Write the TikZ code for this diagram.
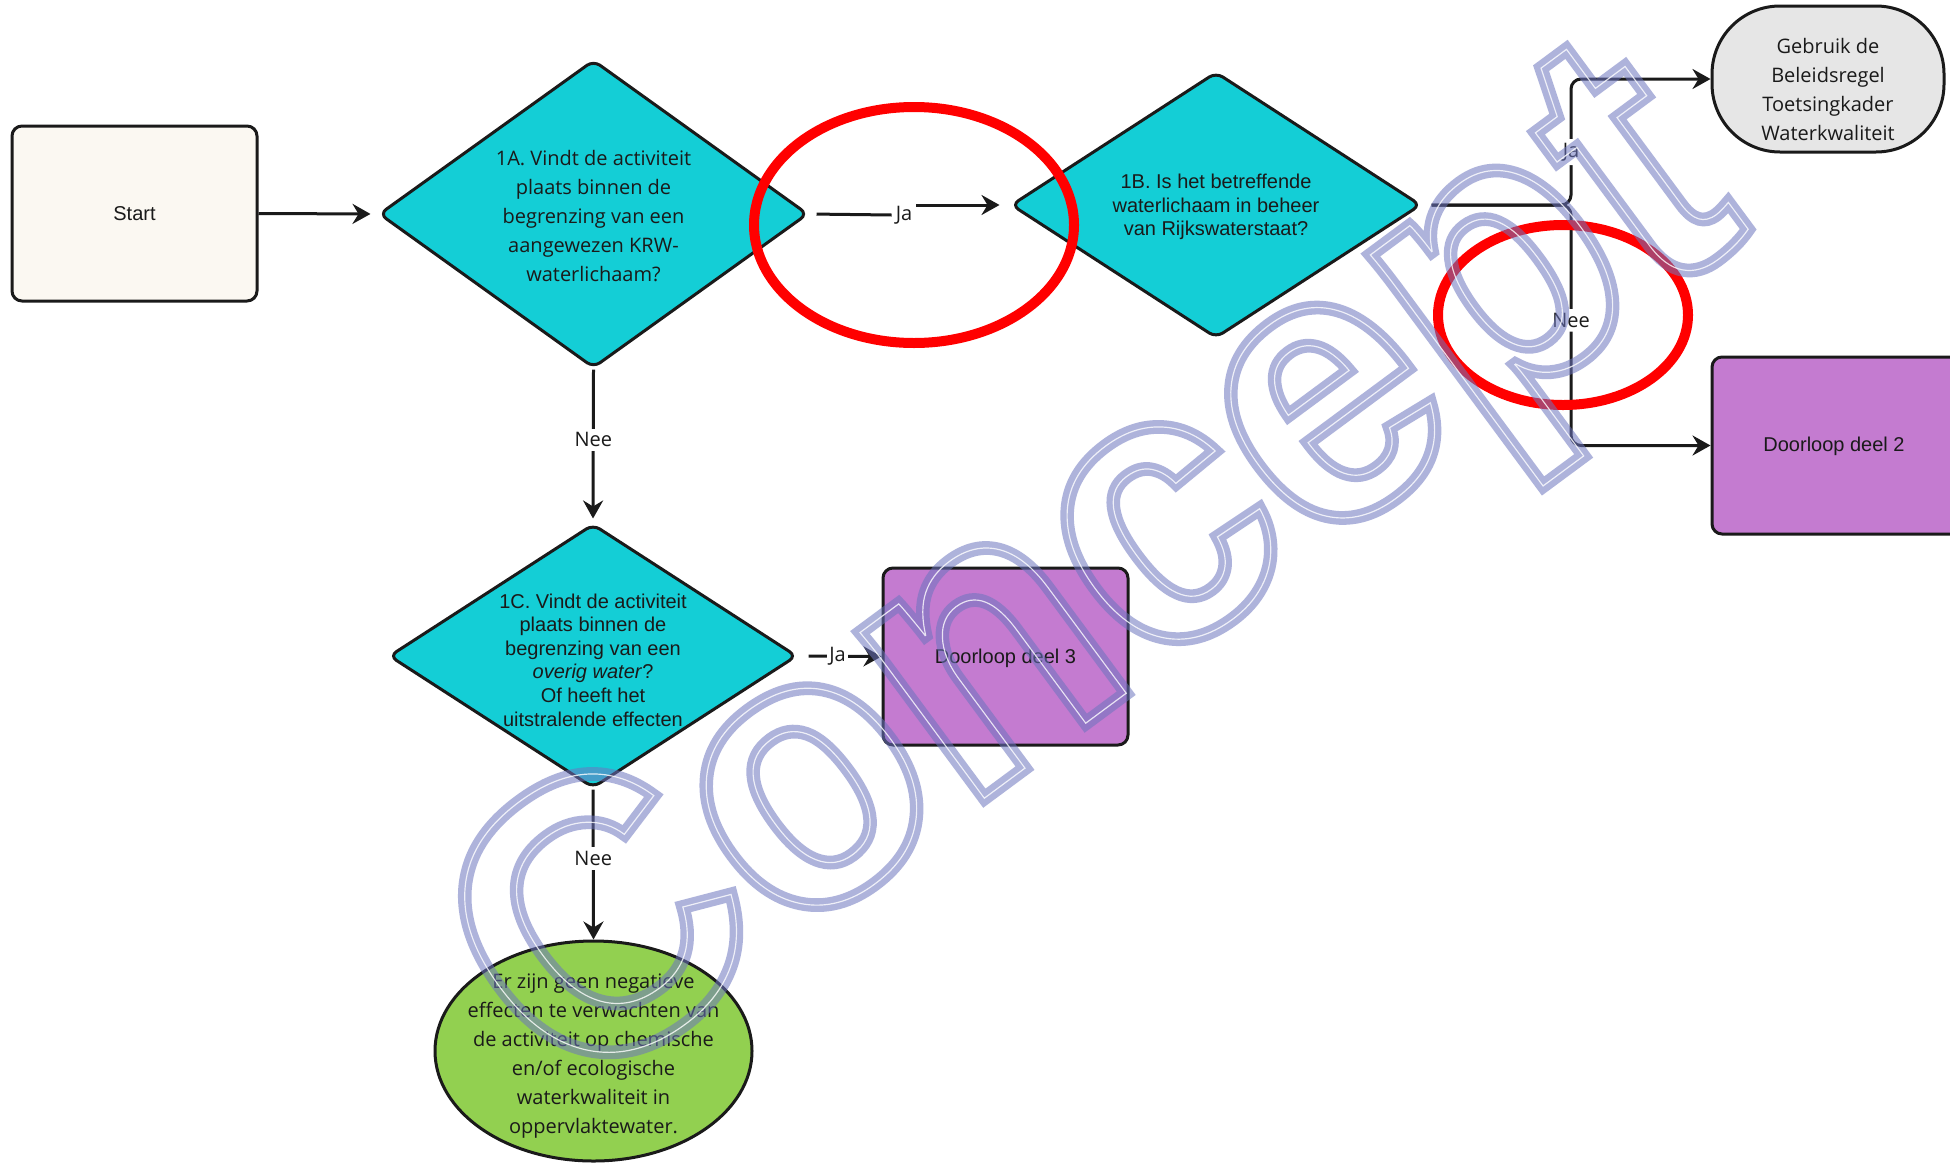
\documentclass[tikz,border=0pt]{standalone}
\usepackage{fontspec}
\setmainfont{Open Sans}
\newfontfamily\arialfont{Liberation Sans}
\newfontfamily\opensansfont{Open Sans}
\usetikzlibrary{shapes.geometric,arrows.meta,calc}

\definecolor{qcyan}{HTML}{14CED6}
\definecolor{qcream}{HTML}{FBF8F2}
\definecolor{qpurple}{HTML}{C47BD0}
\definecolor{qgrey}{HTML}{E6E6E6}
\definecolor{qgreen}{HTML}{92D050}
\definecolor{qink}{HTML}{1A1A1A}
\definecolor{qmark}{HTML}{6C75BF}

% outlined glyphs: PDF text render mode 1 (stroke only) with a given line width
\newcommand\outlineon[1]{\special{pdf:literal direct 1 Tr #1 w}}
\newcommand\outlineoff{\special{pdf:literal direct 0 Tr}}

\begin{document}
\begin{tikzpicture}[x=1pt,y=-1pt,
  box/.style={draw=qink, line width=3pt, rounded corners=10pt, inner sep=0pt},
  decision/.style={diamond, draw=qink, fill=qcyan, line width=3pt,
                   rounded corners=8pt, inner sep=0pt},
  arialtxt/.style={font=\arialfont\fontsize{20}{23.6}\selectfont,
                   align=center, text=qink, inner sep=0pt},
  opentxt/.style={font=\opensansfont\fontsize{20}{29}\selectfont,
                  align=center, text=qink, inner sep=0pt},
  conn/.style={draw=qink, line width=3pt,
               -{Stealth[length=18pt,width=20pt,inset=6pt]}},
  plainline/.style={draw=qink, line width=3pt},
  edgelabel/.style={font=\opensansfont\fontsize{20}{24}\selectfont,
                    text=qink, fill=white, inner sep=4pt},
  ring/.style={draw=red, line width=10pt},
  wmark/.style={font=\arialfont\bfseries\fontsize{392}{392}\selectfont,
                inner sep=0pt, rotate=36.5, xscale=0.94}
]
\useasboundingbox (0,0) rectangle (1950,1162);
\fill[white] (0,0) rectangle (1950,1162);

% ---- shapes ----
\node[box, fill=qcream, minimum width=245pt, minimum height=175pt] (start) at (134.5,213.5) {};
\node[arialtxt] (starttxt) at (start) {Start};

\node[decision, minimum width=429pt, minimum height=308pt] (d1a) at (593.5,214) {};
\node[opentxt] (d1atxt) at (593.5,216) {1A. Vindt de activiteit\\plaats binnen de\\begrenzing van een\\aangewezen KRW-\\waterlichaam?};

\node[decision, minimum width=410pt, minimum height=266pt] (d1b) at (1216,205) {};
\node[arialtxt] (d1btxt) at (1216,207) {1B. Is het betreffende\\waterlichaam in beheer\\van Rijkswaterstaat?};

\node[box, fill=qgrey, rounded corners=68pt, minimum width=232pt, minimum height=146pt] (rule) at (1828,79) {};
\node[opentxt] (ruletxt) at (1828,89) {Gebruik de\\Beleidsregel\\Toetsingkader\\Waterkwaliteit};

\node[box, fill=qpurple, minimum width=252pt, minimum height=177pt] (part2) at (1838,445.5) {};
\node[arialtxt] (part2txt) at (1834,446) {Doorloop deel 2};

\node[decision, minimum width=408pt, minimum height=264pt] (d1c) at (593,656) {};
\node[arialtxt] (d1ctxt) at (593,660) {1C. Vindt de activiteit\\plaats binnen de\\begrenzing van een\\\textit{overig water}?\\Of heeft het\\uitstralende effecten};

\node[box, fill=qpurple, minimum width=245pt, minimum height=177pt] (part3) at (1005.5,656.5) {};
\node[arialtxt] (part3txt) at (1005.5,658) {Doorloop deel 3};

\node[ellipse, draw=qink, fill=qgreen, line width=3pt, inner sep=0pt,
      minimum width=317pt, minimum height=220pt] (none) at (593.5,1051) {};
\node[opentxt] (nonetxt) at (593.5,1056) {Er zijn geen negatieve\\effecten te verwachten van\\de activiteit op chemische\\en/of ecologische\\waterkwaliteit in\\oppervlaktewater.};

% ---- connectors ----
\draw[conn, shorten >=7pt] (start.east) -- (d1a.west);

\node[edgelabel] (ja1) at (904,215) {Ja};
\draw[plainline, shorten <=7pt] (d1a.east) -- (ja1.west);
\draw[conn, shorten >=10pt] (ja1.east |- d1b.west) -- (d1b.west);

\coordinate (split) at (1571,205);
\draw[conn, rounded corners=10pt, shorten <=9pt]
  (d1b.east) -- (split) -- node[edgelabel, pos=0.42] (ja2) {Ja} (split |- rule.west) -- (rule.west);
\draw[conn, rounded corners=10pt, shorten <=9pt]
  (d1b.east) -- (split) -- node[edgelabel, pos=0.48] (nee2) {Nee} (split |- part2.west) -- (part2.west);

\draw[conn, shorten >=4pt] (d1a.south) -- node[edgelabel, pos=0.46] (nee1) {Nee} (d1c.north);

\draw[conn, shorten <=10pt] (d1c.east) -- node[edgelabel, pos=0.47, inner xsep=2pt] (ja3) {Ja} (part3.west);

\draw[conn] (d1c.south) -- node[edgelabel, pos=0.46] (nee3) {Nee} (none.north);

% ---- red marking rings ----
\draw[ring] (914,225) ellipse [x radius=160, y radius=118];
\draw[ring] (1563,315) ellipse [x radius=125, y radius=90];

% ---- watermark ----
\begin{scope}[opacity=0.55]
  \node[wmark, text=qmark] (wm) at (1104,590) {\outlineon{14}Concept\outlineoff};
\end{scope}
\begin{scope}[opacity=0.8]
  \node[wmark, text=white] (wmline) at (1104,590) {\outlineon{1.2}Concept\outlineoff};
\end{scope}
\end{tikzpicture}
\end{document}
